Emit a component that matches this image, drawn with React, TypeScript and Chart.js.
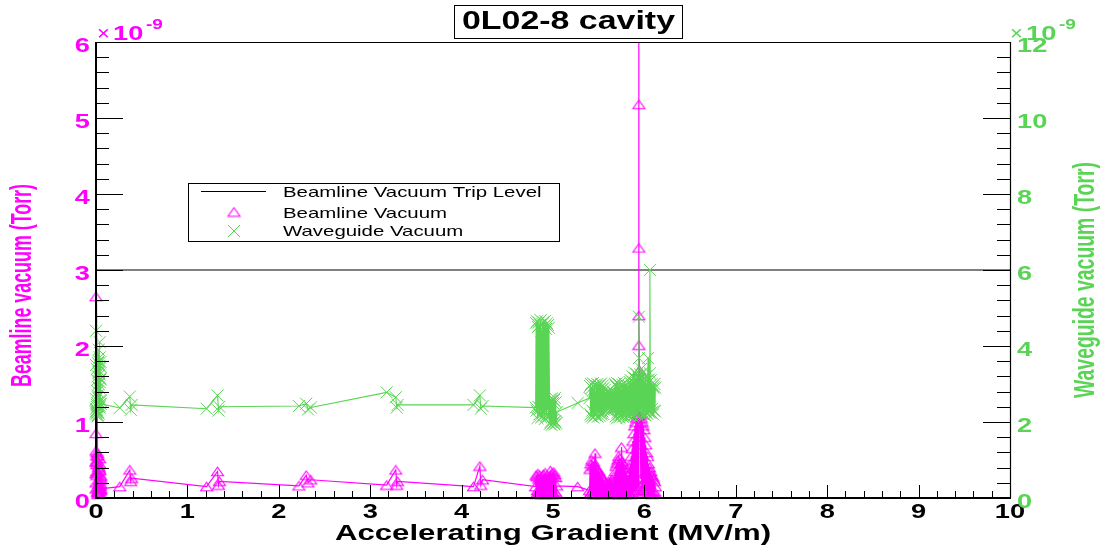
import React, { useEffect, useRef } from 'react';
import { Chart, registerables } from 'chart.js';

Chart.register(...registerables);

// ---------- text ----------
const chartTitle = '0L02-8 cavity';
const xTitle = 'Accelerating Gradient (MV/m)';
const yLeftTitle = 'Beamline vacuum (Torr)';
const yRightTitle = 'Waveguide vacuum (Torr)';
const legendLabels = ['Beamline Vacuum Trip Level', 'Beamline Vacuum', 'Waveguide Vacuum'];
const exponentLabel = '-9';

// ---------- axes ----------
const xRange = [0, 10];
const leftRange = [0, 6];
const rightRange = [0, 12];
const xTickLabels = ['0', '1', '2', '3', '4', '5', '6', '7', '8', '9', '10'];
const leftTickLabels = ['0', '1', '2', '3', '4', '5', '6'];
const rightTickLabels = ['0', '2', '4', '6', '8', '10', '12'];

// trip level (units of 1e-9 Torr, left axis)
const tripLevel = 3;

// ---------- data (gradient MV/m, vacuum in units of 1e-9 Torr) ----------
const gradient = [
  // near 0 MV/m
  0.00, 0.01, 0.00, 0.02, 0.01, 0.03, 0.00, 0.02, 0.04, 0.01, 0.03, 0.05, 0.02, 0.00, 0.04,
  0.03, 0.01, 0.05, 0.02, 0.04, 0.00, 0.03, 0.01, 0.05, 0.02, 0.04, 0.03, 0.05, 0.04, 0.05,
  0.00, 0.02, 0.01, 0.03, 0.04, 0.02, 0.05, 0.01, 0.03, 0.00, 0.04, 0.02, 0.05, 0.05,
  // sparse steps
  0.26, 0.37, 0.38, 0.39, 1.21, 1.33, 1.34, 1.35, 2.22, 2.30, 2.32, 2.35,
  3.18, 3.28, 3.29, 3.30, 4.13, 4.20, 4.21, 4.23,
  // ~4.9 MV/m
  4.810, 4.815, 4.820, 4.825, 4.830, 4.835, 4.840, 4.845, 4.850, 4.855,
  4.860, 4.865, 4.870, 4.875, 4.880, 4.885, 4.890, 4.895, 4.900, 4.905,
  4.910, 4.915, 4.920, 4.925, 4.930, 4.935, 4.940, 4.945, 4.950, 4.955,
  4.965, 4.970, 4.975, 4.980, 4.985, 4.990, 4.995, 5.000, 5.005, 5.010,
  5.015, 5.020, 5.025, 5.030, 5.035, 5.040,
  5.27,
  // ~5.5 MV/m
  5.400, 5.405, 5.410, 5.415, 5.420, 5.425, 5.430, 5.435, 5.440, 5.445,
  5.450, 5.455, 5.460, 5.465, 5.470, 5.475, 5.480, 5.485, 5.490, 5.495,
  5.500, 5.505, 5.510, 5.515, 5.520, 5.525, 5.530, 5.535, 5.540, 5.545,
  5.550, 5.555, 5.560, 5.565, 5.570,
  5.575, 5.580, 5.585, 5.590, 5.595, 5.600, 5.605, 5.610, 5.615, 5.620,
  5.625, 5.630, 5.635, 5.640, 5.645, 5.650, 5.655, 5.660, 5.665, 5.670, 5.675,
  5.680, 5.685, 5.690, 5.695, 5.700, 5.705, 5.710, 5.715, 5.720, 5.725,
  5.730, 5.735, 5.740, 5.745, 5.750, 5.755, 5.760, 5.765, 5.770, 5.775,
  5.780, 5.785, 5.790, 5.795, 5.800, 5.805, 5.810, 5.815, 5.820,
  // ~6 MV/m
  5.825, 5.830, 5.835, 5.840, 5.845, 5.850, 5.855, 5.860, 5.865, 5.870,
  5.875, 5.880, 5.885, 5.890, 5.895, 5.900, 5.905, 5.910, 5.915, 5.920,
  5.925, 5.930, 5.935,
  5.940, 5.940, 5.940, 5.940, 5.940,
  5.945, 5.950, 5.955, 5.960, 5.965, 5.970, 5.975, 5.980, 5.985, 5.990,
  5.995, 6.000, 6.005, 6.010, 6.015, 6.020, 6.025, 6.030, 6.035, 6.040,
  6.045, 6.050, 6.055, 6.060, 6.060, 6.065, 6.070, 6.075, 6.080, 6.085,
  6.090, 6.095, 6.100, 6.105, 6.110, 6.115, 6.120,
];

const beamline = [
  0.12, 0.35, 2.65, 0.08, 0.48, 0.22, 0.85, 0.55, 0.15, 0.30, 0.42, 0.10, 0.58, 0.20, 0.38,
  0.06, 0.50, 0.25, 0.14, 0.45, 0.32, 0.18, 0.60, 0.28, 0.09, 0.52, 0.40, 0.16, 0.24, 0.12,
  0.62, 0.07, 0.44, 0.13, 0.36, 0.05, 0.30, 0.56, 0.11, 0.47, 0.08, 0.33, 0.19, 0.12,
  0.15, 0.37, 0.22, 0.26, 0.15, 0.35, 0.17, 0.22, 0.16, 0.30, 0.20, 0.24,
  0.17, 0.37, 0.17, 0.22, 0.15, 0.42, 0.17, 0.24,
  0.15, 0.30, 0.05, 0.28, 0.10, 0.32, 0.06, 0.25, 0.09, 0.30,
  0.07, 0.27, 0.05, 0.22, 0.10, 0.29, 0.06, 0.31, 0.08, 0.26,
  0.05, 0.33, 0.07, 0.24, 0.09, 0.30, 0.06, 0.28, 0.08, 0.25,
  0.06, 0.36, 0.08, 0.30, 0.05, 0.33, 0.07, 0.28, 0.06, 0.34,
  0.05, 0.31, 0.08, 0.27, 0.06, 0.16,
  0.15,
  0.10, 0.38, 0.06, 0.45, 0.08, 0.50, 0.05, 0.42, 0.12, 0.48,
  0.05, 0.43, 0.59, 0.09, 0.40, 0.06, 0.38, 0.08, 0.35, 0.05,
  0.36, 0.10, 0.33, 0.06, 0.30, 0.08, 0.28, 0.05, 0.26, 0.09,
  0.24, 0.06, 0.22, 0.10, 0.12,
  0.18, 0.06, 0.20, 0.08, 0.16, 0.05, 0.22, 0.09, 0.19, 0.06,
  0.21, 0.07, 0.17, 0.05, 0.23, 0.08, 0.20, 0.06, 0.28, 0.07, 0.25,
  0.35, 0.08, 0.42, 0.06, 0.46, 0.10, 0.50, 0.05, 0.55, 0.12,
  0.52, 0.05, 0.45, 0.08, 0.67, 0.48, 0.06, 0.40, 0.09, 0.44,
  0.05, 0.38, 0.08, 0.35, 0.06, 0.32, 0.10, 0.30, 0.12,
  0.30, 0.06, 0.40, 0.08, 0.45, 0.05, 0.55, 0.10, 0.65, 0.07,
  0.75, 0.12, 0.85, 0.09, 0.95, 0.15, 1.00, 0.10, 1.05, 0.20,
  1.10, 0.15, 1.08,
  2.01, 7.80, 5.18, 3.29, 2.40,
  1.68, 1.53, 1.10, 0.25, 1.05, 0.18, 1.00, 0.12, 0.95, 0.20,
  0.90, 0.10, 0.80, 0.15, 0.70, 0.08, 0.60, 0.12, 0.55, 0.06,
  0.45, 0.10, 0.40, 0.30, 0.35, 0.06, 0.35, 0.08, 0.30, 0.05,
  0.28, 0.09, 0.25, 0.06, 0.22, 0.08, 0.15,
];

const waveguide = [
  2.25, 3.10, 2.60, 3.55, 2.40, 3.30, 4.40, 2.80, 3.70, 2.30, 3.90, 2.55, 3.20, 2.35, 4.10,
  2.90, 2.45, 3.45, 2.70, 3.05, 2.28, 3.60, 2.50, 3.15, 2.65, 2.38, 3.35, 2.58, 2.42, 2.48,
  3.50, 2.18, 3.40, 2.22, 3.25, 2.15, 3.58, 2.32, 3.00, 2.20, 3.48, 2.26, 3.12, 2.48,
  2.37, 2.67, 2.32, 2.45, 2.35, 2.70, 2.30, 2.40, 2.42, 2.48, 2.33, 2.38,
  2.78, 2.65, 2.38, 2.45, 2.45, 2.70, 2.35, 2.42,
  2.38, 4.60, 2.30, 4.65, 2.10, 4.50, 2.40, 4.62, 2.20, 4.55,
  2.35, 4.68, 2.12, 4.40, 2.25, 4.58, 2.15, 4.63, 2.32, 4.52,
  2.08, 4.66, 2.28, 4.45, 2.18, 4.60, 2.36, 4.55, 2.14, 4.48,
  1.95, 2.60, 2.00, 2.55, 1.92, 2.62, 2.05, 2.50, 1.98, 2.58,
  1.94, 2.63, 2.02, 2.52, 1.96, 2.26,
  2.50,
  2.63, 2.95, 2.20, 3.00, 2.15, 2.90, 2.30, 3.02, 2.12, 2.85,
  2.25, 2.98, 2.18, 2.80, 2.22, 2.95, 2.30, 3.00, 2.14, 2.92,
  2.26, 2.97, 2.16, 2.88, 2.24, 3.01, 2.19, 2.86, 2.28, 2.96,
  2.21, 2.90, 2.32, 2.84, 2.60,
  2.75, 2.35, 2.72, 2.32, 2.78, 2.40, 2.70, 2.33, 2.76, 2.38,
  2.74, 2.31, 2.77, 2.36, 2.71, 2.34, 2.79, 2.39, 2.73, 2.35, 2.76,
  3.00, 2.15, 2.95, 2.10, 3.03, 2.25, 2.90, 2.20, 3.00, 2.12,
  2.88, 2.30, 2.95, 2.18, 2.85, 2.22, 2.98, 2.14, 2.92, 2.27,
  3.02, 2.16, 2.89, 2.24, 2.96, 2.11, 2.87, 2.28, 2.85,
  2.20, 2.95, 2.15, 3.05, 2.25, 3.10, 2.18, 3.00, 2.22, 3.20,
  2.15, 3.05, 2.30, 3.30, 2.22, 3.15, 2.28, 3.10, 2.20, 3.25,
  2.35, 3.05, 2.25,
  3.15, 4.77, 3.68, 2.40, 3.15,
  2.95, 2.28, 3.25, 2.20, 3.40, 2.35, 3.10, 2.25, 3.30, 2.20,
  3.15, 2.30, 3.05, 2.18, 3.20, 2.26, 3.00, 2.22, 3.10, 3.68,
  2.30, 3.12, 2.25, 3.28, 6.00, 2.40, 3.10, 2.25, 3.00, 2.35,
  2.95, 2.20, 2.90, 2.30, 3.00, 2.28, 2.90,
];

// ---------- style ----------
const MAGENTA = '#ff00ff';
const GREEN = '#59d454';
const FONT = '"Liberation Sans", Arial, Helvetica, sans-serif';
const SX = 1.36;

type TextOpts = {
  size: number;
  bold?: boolean;
  color?: string;
  align?: CanvasTextAlign;
  sx?: number;
  sy?: number;
  len?: number;
  rot?: number;
};

function drawText(ctx: CanvasRenderingContext2D, s: string, x: number, y: number, o: TextOpts) {
  ctx.save();
  ctx.font = `${o.bold ? 'bold ' : ''}${o.size}px ${FONT}`;
  ctx.fillStyle = o.color || '#000';
  ctx.textBaseline = 'alphabetic';
  ctx.textAlign = o.align || 'left';
  ctx.translate(x, y);
  if (o.rot) ctx.rotate(o.rot);
  const w = ctx.measureText(s).width;
  const sx = o.len ? o.len / w : o.sx ?? SX;
  ctx.scale(sx, o.sy ?? 1);
  ctx.fillText(s, 0, 0);
  ctx.restore();
}

function makeTriangle(): HTMLCanvasElement {
  const c = document.createElement('canvas');
  c.width = 15;
  c.height = 11;
  const g = c.getContext('2d')!;
  g.strokeStyle = MAGENTA;
  g.lineWidth = 1.1;
  g.beginPath();
  g.moveTo(7.5, 1.2);
  g.lineTo(13.5, 9.8);
  g.lineTo(1.5, 9.8);
  g.closePath();
  g.stroke();
  return c;
}

function makeRootPlugin(triangle: HTMLCanvasElement) {
  return {
    id: 'rootStyle',
    afterDraw(chart: any) {
      const ctx: CanvasRenderingContext2D = chart.ctx;
      const a = chart.chartArea;
      const xs = chart.scales.x;
      const yl = chart.scales.y;
      const yr = chart.scales.y2;
      const line = (x1: number, y1: number, x2: number, y2: number, w = 1, c = '#000') => {
        ctx.strokeStyle = c;
        ctx.lineWidth = w;
        ctx.beginPath();
        ctx.moveTo(x1, y1);
        ctx.lineTo(x2, y2);
        ctx.stroke();
      };
      ctx.save();

      // frame
      line(a.left, a.top + 0.5, a.right, a.top + 0.5, 1);
      line(a.right + 0.5, a.top, a.right + 0.5, a.bottom, 1.2);
      line(a.left, a.top, a.left, a.bottom + 1, 2);
      line(a.left - 1, a.bottom, a.right + 1, a.bottom, 2);

      // x ticks (inward)
      for (let i = 0; i <= 50; i++) {
        const v = xRange[0] + (i * (xRange[1] - xRange[0])) / 50;
        const px = Math.round(xs.getPixelForValue(v)) + 0.5;
        const len = i % 5 === 0 ? 13 : 7;
        line(px, a.bottom, px, a.bottom - len, 1);
      }
      // left ticks
      for (let i = 0; i <= 30; i++) {
        const v = leftRange[0] + (i * (leftRange[1] - leftRange[0])) / 30;
        const py = Math.round(yl.getPixelForValue(v)) + 0.5;
        const len = i % 5 === 0 ? 27 : 13;
        line(a.left, py, a.left + len, py, 1);
      }
      // right ticks
      for (let i = 0; i <= 30; i++) {
        const v = rightRange[0] + (i * (rightRange[1] - rightRange[0])) / 30;
        const py = Math.round(yr.getPixelForValue(v)) + 0.5;
        const len = i % 5 === 0 ? 27 : 13;
        line(a.right, py, a.right - len, py, 1);
      }

      // tick labels
      xTickLabels.forEach((t) => {
        const px = xs.getPixelForValue(Number(t));
        drawText(ctx, t, px, a.bottom + 20, { size: 20, bold: true, align: 'center' });
      });
      leftTickLabels.forEach((t) => {
        const py = yl.getPixelForValue(Number(t));
        drawText(ctx, t, a.left - 6, py + 10, { size: 20, bold: true, align: 'right', color: MAGENTA });
      });
      rightTickLabels.forEach((t) => {
        const py = yr.getPixelForValue(Number(t));
        drawText(ctx, t, a.right + 7, py + 10, { size: 20, bold: true, align: 'left', color: GREEN });
      });

      // exponents
      const drawExp = (x0: number, color: string) => {
        drawText(ctx, '\u00d7', x0, 40, { size: 20, color, sx: 1.1 });
        drawText(ctx, '10', x0 + 16, 40, { size: 20, bold: true, color });
        drawText(ctx, exponentLabel, x0 + 49, 29, { size: 14, bold: true, color });
      };
      drawExp(a.left + 1, MAGENTA);
      drawExp(a.right, GREEN);

      // axis titles
      drawText(ctx, xTitle, 335, 540, { size: 22, bold: true, len: 436 });
      drawText(ctx, yLeftTitle, 31, 387, { size: 20, bold: true, color: MAGENTA, rot: -Math.PI / 2, len: 203, sy: 1.5 });
      drawText(ctx, yRightTitle, 1094, 398, { size: 20, bold: true, color: GREEN, rot: -Math.PI / 2, len: 236, sy: 1.5 });

      // title box
      ctx.fillStyle = '#fff';
      ctx.fillRect(454, 5, 228, 33);
      ctx.strokeStyle = '#000';
      ctx.lineWidth = 1;
      ctx.strokeRect(454.5, 5.5, 228, 33);
      drawText(ctx, chartTitle, 462, 29, { size: 26, bold: true, len: 213 });

      // legend
      ctx.fillStyle = '#fff';
      ctx.fillRect(188, 183, 371, 58);
      ctx.strokeStyle = '#000';
      ctx.lineWidth = 1;
      ctx.strokeRect(188.5, 183.5, 371, 58);
      line(201, 191.5, 266, 191.5, 1);
      ctx.drawImage(triangle, 234 - 7.5, 212 - 5.5);
      ctx.strokeStyle = GREEN;
      ctx.lineWidth = 1;
      ctx.beginPath();
      ctx.moveTo(228, 225);
      ctx.lineTo(240, 237);
      ctx.moveTo(240, 225);
      ctx.lineTo(228, 237);
      ctx.stroke();
      drawText(ctx, legendLabels[0], 283, 197, { size: 15 });
      drawText(ctx, legendLabels[1], 283, 218, { size: 15 });
      drawText(ctx, legendLabels[2], 283, 236, { size: 15 });

      ctx.restore();
    },
  };
}

export default function App() {
  const ref = useRef<HTMLCanvasElement>(null);
  useEffect(() => {
    document.body.style.margin = '0';
    const triangle = makeTriangle();
    const clip = { left: 8, right: 8, top: 0, bottom: 8 };
    const chart = new Chart(ref.current!, {
      type: 'scatter',
      data: {
        datasets: [
          {
            label: legendLabels[2],
            data: gradient.map((x, i) => ({ x, y: waveguide[i] })),
            yAxisID: 'y2',
            showLine: true,
            borderColor: GREEN,
            borderWidth: 1.1,
            pointStyle: 'crossRot',
            pointRadius: 8.5,
            pointBorderColor: GREEN,
            pointBackgroundColor: GREEN,
            pointBorderWidth: 1,
            order: 0,
            clip,
          } as any,
          {
            label: legendLabels[1],
            data: gradient.map((x, i) => ({ x, y: beamline[i] })),
            yAxisID: 'y',
            showLine: true,
            borderColor: MAGENTA,
            borderWidth: 1.2,
            pointStyle: triangle,
            pointRadius: 6,
            order: 1,
            clip,
          } as any,
          {
            label: legendLabels[0],
            data: [
              { x: xRange[0], y: tripLevel },
              { x: xRange[1], y: tripLevel },
            ],
            yAxisID: 'y',
            showLine: true,
            borderColor: '#000',
            borderWidth: 1,
            pointRadius: 0,
            order: 2,
          } as any,
        ],
      },
      options: {
        responsive: false,
        animation: false,
        layout: { padding: { left: 96, right: 95, top: 42, bottom: 57 } },
        elements: { line: { tension: 0 } },
        scales: {
          x: { type: 'linear', min: xRange[0], max: xRange[1], display: false },
          y: { type: 'linear', min: leftRange[0], max: leftRange[1], display: false, position: 'left' },
          y2: { type: 'linear', min: rightRange[0], max: rightRange[1], display: false, position: 'right' },
        },
        plugins: { legend: { display: false }, tooltip: { enabled: false } },
      },
      plugins: [makeRootPlugin(triangle)],
    });
    return () => chart.destroy();
  }, []);
  return (
    <canvas
      ref={ref}
      width={1105}
      height={555}
      style={{ display: 'block', position: 'fixed', left: 0, top: 0, width: 1105, height: 555 }}
    />
  );
}
